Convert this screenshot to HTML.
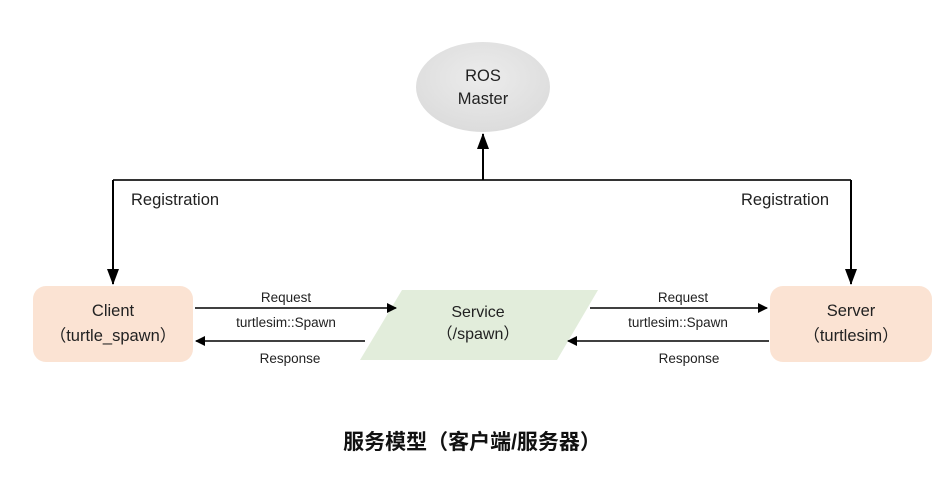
<!DOCTYPE html>
<html><head><meta charset="utf-8"><style>
body{margin:0;background:#fff;}
svg text{font-family:"Liberation Sans","Noto Sans CJK SC",sans-serif;}
</style></head><body>
<svg width="946" height="497" viewBox="0 0 946 497" xmlns="http://www.w3.org/2000/svg">
<defs>
<radialGradient id="g" cx="50%" cy="40%" r="60%"><stop offset="0" stop-color="#ececec"/><stop offset="1" stop-color="#dcdcdc"/></radialGradient>
<marker id="a" markerWidth="10" markerHeight="10" refX="9" refY="5" orient="auto" markerUnits="userSpaceOnUse"><path d="M0,0 L10,5 L0,10 z" fill="#000"/></marker>
<marker id="b" markerWidth="16" markerHeight="12" refX="15" refY="6" orient="auto" markerUnits="userSpaceOnUse"><path d="M0,0 L16,6 L0,12 z" fill="#000"/></marker>
</defs>
<ellipse cx="483" cy="87" rx="67" ry="45" fill="url(#g)"/>
<text x="483" y="81" font-size="16.5" text-anchor="middle" fill="#222">ROS</text>
<text x="483" y="104" font-size="16.5" text-anchor="middle" fill="#222">Master</text>
<path d="M113,180 H851" stroke="#333" stroke-width="2" fill="none"/>
<path d="M483,180 V134" stroke="#000" stroke-width="2" fill="none" marker-end="url(#b)"/>
<path d="M113,180 V284" stroke="#000" stroke-width="2" fill="none" marker-end="url(#b)"/>
<path d="M851,180 V284" stroke="#000" stroke-width="2" fill="none" marker-end="url(#b)"/>
<text x="131" y="205" font-size="16.5" fill="#222">Registration</text>
<text x="741" y="205" font-size="16.5" fill="#222">Registration</text>
<rect x="33" y="286" width="160" height="76" rx="13" fill="#fbe3d3"/>
<text x="113" y="316" font-size="16.5" text-anchor="middle" fill="#222">Client</text>
<text x="113" y="341" font-size="16.5" text-anchor="middle" fill="#222">（turtle_spawn）</text>
<rect x="770" y="286" width="162" height="76" rx="13" fill="#fbe3d3"/>
<text x="851" y="316" font-size="16.5" text-anchor="middle" fill="#222">Server</text>
<text x="851" y="341" font-size="16.5" text-anchor="middle" fill="#222">（turtlesim）</text>
<polygon points="402,290 598,290 557,360 360,360" fill="#e2eddb"/>
<text x="478" y="317" font-size="16" text-anchor="middle" fill="#222">Service</text>
<text x="478" y="339" font-size="16" text-anchor="middle" fill="#222">（/spawn）</text>
<path d="M195,308 H396" stroke="#000" stroke-width="1.5" marker-end="url(#a)"/>
<path d="M365,341 H196" stroke="#000" stroke-width="1.5" marker-end="url(#a)"/>
<path d="M590,308 H767" stroke="#000" stroke-width="1.5" marker-end="url(#a)"/>
<path d="M769,341 H568" stroke="#000" stroke-width="1.5" marker-end="url(#a)"/>
<g font-size="13.5" fill="#222" text-anchor="middle">
<text x="286" y="302">Request</text>
<text x="286" y="327">turtlesim::Spawn</text>
<text x="290" y="363">Response</text>
<text x="683" y="302">Request</text>
<text x="678" y="327">turtlesim::Spawn</text>
<text x="689" y="363">Response</text>
</g>
<text x="472" y="449" font-size="21" font-weight="bold" text-anchor="middle" fill="#111">服务模型（客户端/服务器）</text>
</svg>
</body></html>
